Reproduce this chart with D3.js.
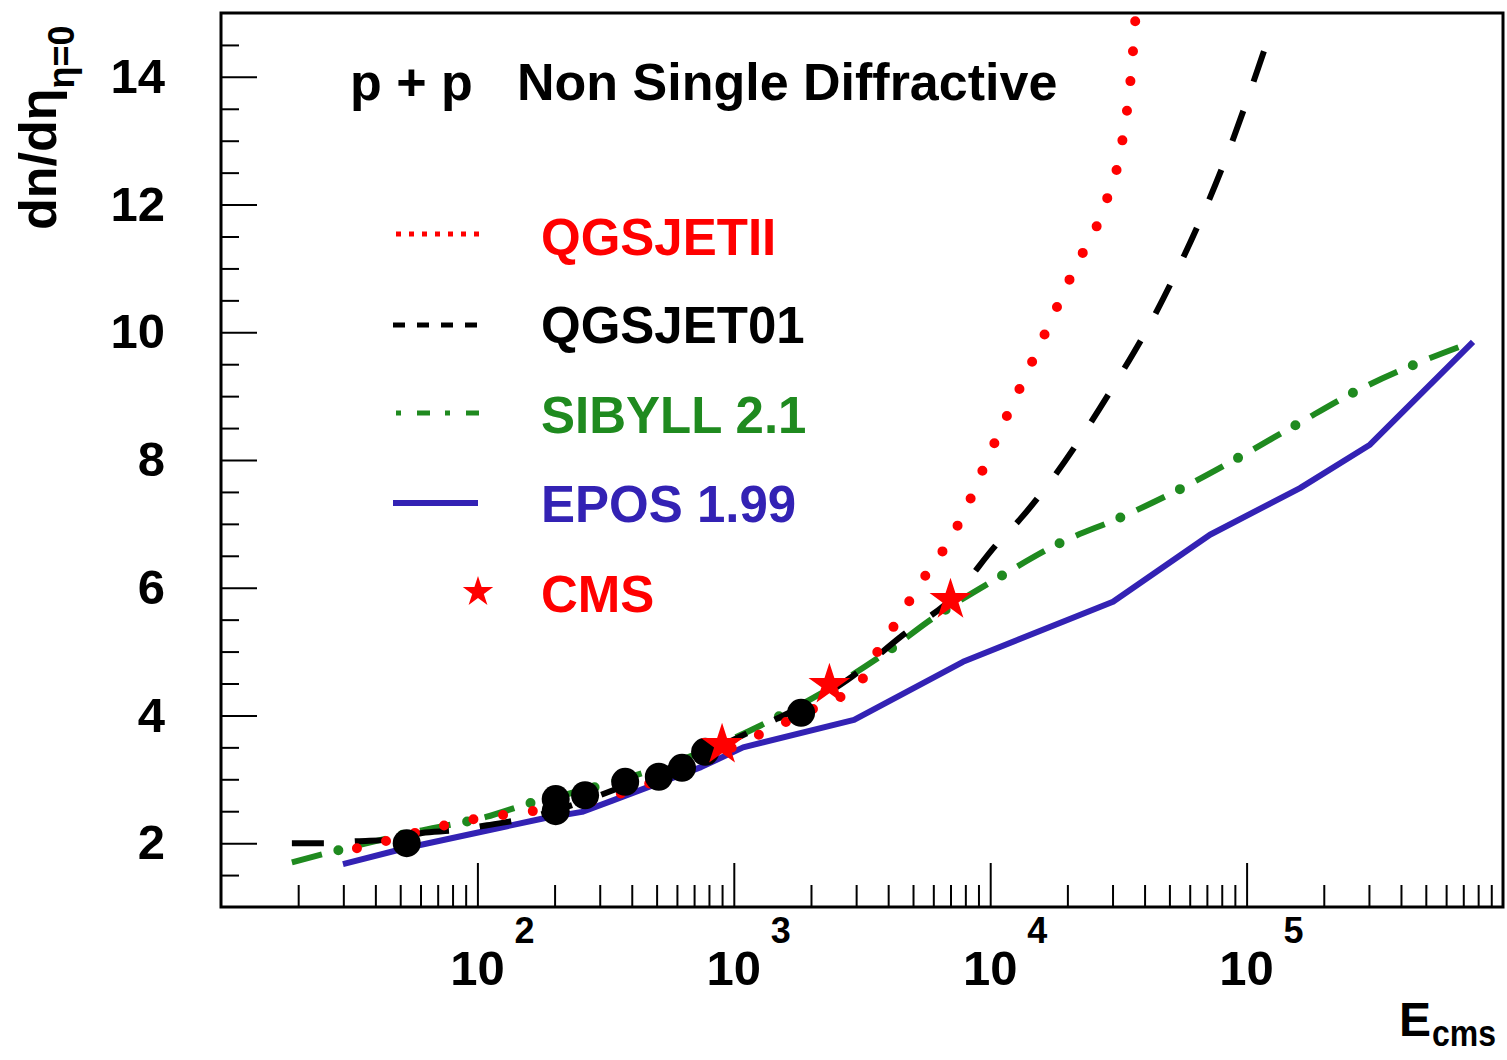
<!DOCTYPE html>
<html>
<head>
<meta charset="utf-8">
<script src="https://cdn.jsdelivr.net/npm/d3@7"></script>
<style>
  body { margin: 0; background: #fff; }
  text { font-family: "Liberation Sans", Arial, Helvetica, sans-serif; font-weight: bold; }
</style>
</head>
<body>
<div id="chart"></div>
<script>
// values: [E_cms (GeV), dn/deta at eta=0]
var qgsjet2 = [[33.9,1.92],[45.6,2.05],[60.8,2.19],[81,2.31],[109,2.41],[144,2.47],[344,2.75],[451,2.91],
  [1337,3.75],[2312,4.21],[3020,4.44],[3522,4.91],[4140,5.35],[4823,5.78],[5717,6.25],[6788,6.68],
  [7836,7.14],[9980,8.11],[14690,9.57],[21420,11.01],[27800,11.96],[32670,12.97],[35410,14.03],[37050,15.05]];

var qgsjet01 = [[18.9,2.0],[25.2,2.0],[33.9,2.03],[46.9,2.06],[60.8,2.16],[81,2.2],[109,2.28],[143,2.36],
  [430,2.99],[738,3.38],[1265,3.82],[2760,4.55],[4573,5.26],[7164,5.85],[10710,6.7],[13060,7.07],
  [31270,9.25],[42770,10.19],[55990,11.13],[80200,12.57],[121000,14.58]];

var sibyll = [[18.9,1.7],[28.8,1.89],[60.8,2.2],[108,2.41],[162,2.63],[290,2.88],[617,3.3],[1472,3.97],
  [4140,5.05],[5820,5.49],[11220,6.2],[18700,6.7],[32660,7.11],[55980,7.56],[94200,8.05],[157300,8.56],
  [264900,9.07],[454000,9.5],[764000,9.85]];

var epos = [[29.9,1.67],[52.2,1.92],[182,2.39],[256,2.49],[338,2.67],[745,3.19],[1087,3.5],[2944,3.93],
  [7834,4.84],[30130,5.78],[71970,6.83],[161500,7.56],[302700,8.24],[764000,9.85]];

var dataPoints = [[53,2.0],[202,2.69],[202,2.5],[263,2.75],[377,2.96],[510,3.04],[628,3.18],[773,3.43],[1830,4.04]];

var cmsPoints = [[900,3.54],[2360,4.48],[7000,5.81]];

var yTickLabels = [2,4,6,8,10,12,14];
var xDecades = [2,3,4,5];

var legendNames = ["QGSJETII","QGSJET01","SIBYLL 2.1","EPOS 1.99","CMS"];
var legendColors = ["#ff0000","#000000","#1f8a1f","#3322b4","#ff0000"];

var svgWidth = 1507, svgHeight = 1060;
var margin = {top: 13, right: 4, bottom: 153, left: 221};
var chartWidth = svgWidth - margin.left - margin.right;
var chartHeight = svgHeight - margin.top - margin.bottom;

var svg = d3.select("#chart").append("svg")
    .attr("width", svgWidth)
    .attr("height", svgHeight)
    .style("background", "#fff");

var chartGroup = svg.append("g")
    .attr("transform", `translate(${margin.left}, ${margin.top})`);

var x = d3.scaleLog().domain([10, 1e6]).range([0, chartWidth]);
var y = d3.scaleLinear().domain([1, 15]).range([chartHeight, 0]);

svg.append("defs").append("clipPath").attr("id", "frameclip")
  .append("rect").attr("width", chartWidth).attr("height", chartHeight);

// ticks: y minor every 0.5, major at even numbers
var yMinor = d3.range(1.5, 15, 0.5).filter(d => d % 2 != 0);
chartGroup.append("g")
    .call(d3.axisLeft(y).tickValues(yMinor).tickSize(-18).tickFormat(""))
    .call(g => g.select(".domain").remove());
var yAxis = chartGroup.append("g")
    .call(d3.axisLeft(y).tickValues(yTickLabels).tickSize(-36).tickPadding(56).tickFormat(d3.format("d")))
    .call(g => g.select(".domain").remove());
yAxis.selectAll("text").attr("font-size", 49).attr("fill", "#000").attr("font-family", null);

var xMinor = [];
[1,2,3,4,5].forEach(function(k){
  for (var m = 2; m <= 9; m++) xMinor.push(m * Math.pow(10, k));
});
chartGroup.append("g")
    .attr("transform", "translate(0," + chartHeight + ")")
    .call(d3.axisBottom(x).tickValues(xMinor).tickSize(-22).tickFormat(""))
    .call(g => g.select(".domain").remove());
chartGroup.append("g")
    .attr("transform", "translate(0," + chartHeight + ")")
    .call(d3.axisBottom(x).tickValues(xDecades.map(k => Math.pow(10, k))).tickSize(-44).tickFormat(""))
    .call(g => g.select(".domain").remove());
chartGroup.selectAll(".tick line").attr("stroke", "#000").attr("stroke-width", 2);

// decade labels 10^k
xDecades.forEach(function(k){
  var px = x(Math.pow(10, k));
  chartGroup.append("text").attr("x", px).attr("y", chartHeight + 78)
    .attr("text-anchor", "middle").attr("font-size", 49).text("10");
  chartGroup.append("text").attr("x", px + 37).attr("y", chartHeight + 36)
    .attr("font-size", 36).text(k);
});

// curves
var line = d3.line().x(d => x(d[0])).y(d => y(d[1]));
var curves = chartGroup.append("g").attr("clip-path", "url(#frameclip)");

curves.append("path").datum(epos)
    .attr("d", line.curve(d3.curveLinear))
    .attr("fill", "none").attr("stroke", legendColors[3]).attr("stroke-width", 6)
    .attr("stroke-linejoin", "round");

var smooth = d3.line().x(d => x(d[0])).y(d => y(d[1])).curve(d3.curveMonotoneX);

curves.append("path").datum(sibyll)
    .attr("d", smooth)
    .attr("fill", "none").attr("stroke", legendColors[2]).attr("stroke-width", 6)
    .attr("stroke-dasharray", "31 35");
curves.append("path").datum(sibyll)
    .attr("d", smooth)
    .attr("fill", "none").attr("stroke", legendColors[2]).attr("stroke-width", 10)
    .attr("stroke-linecap", "round")
    .attr("stroke-dasharray", "0 66").attr("stroke-dashoffset", 18);

curves.append("path").datum(qgsjet01)
    .attr("d", smooth)
    .attr("fill", "none").attr("stroke", "#000").attr("stroke-width", 6)
    .attr("stroke-dasharray", "32 31");

curves.append("path").datum(qgsjet2)
    .attr("d", smooth)
    .attr("fill", "none").attr("stroke", "#ff0000").attr("stroke-width", 10)
    .attr("stroke-linecap", "round")
    .attr("stroke-dasharray", "0 30");

// measured points
chartGroup.selectAll(".pt").data(dataPoints).enter().append("circle")
    .attr("cx", d => x(d[0])).attr("cy", d => y(d[1])).attr("r", 14).attr("fill", "#000");

var starR = 22;
chartGroup.selectAll(".cms").data(cmsPoints).enter().append("path")
    .attr("d", d3.symbol(d3.symbolStar, starR * starR / 0.8908130915292852))
    .attr("transform", d => `translate(${x(d[0])},${y(d[1])})`)
    .attr("fill", "#ff0000");

// frame
chartGroup.append("rect").attr("width", chartWidth).attr("height", chartHeight)
    .attr("fill", "none").attr("stroke", "#000").attr("stroke-width", 3);

// title
svg.append("text").attr("x", 350).attr("y", 100).attr("font-size", 52).text("p + p");
svg.append("text").attr("x", 517).attr("y", 100).attr("font-size", 52).text("Non Single Diffractive");

// legend
var legY = [255, 343, 433, 522, 612];
legendNames.forEach(function(name, i){
  svg.append("text").attr("x", 541).attr("y", legY[i]).attr("font-size", 51)
    .attr("fill", legendColors[i]).text(name);
});
var lg = svg.append("g");
lg.append("line").attr("x1", 396).attr("x2", 479).attr("y1", 234).attr("y2", 234)
  .attr("stroke", "#ff0000").attr("stroke-width", 5).attr("stroke-dasharray", "5 8");
lg.append("line").attr("x1", 393).attr("x2", 478).attr("y1", 325).attr("y2", 325)
  .attr("stroke", "#000").attr("stroke-width", 5).attr("stroke-dasharray", "12 12");
lg.append("line").attr("x1", 396).attr("x2", 479).attr("y1", 413).attr("y2", 413)
  .attr("stroke", legendColors[2]).attr("stroke-width", 5).attr("stroke-dasharray", "5 16 13 15");
lg.append("line").attr("x1", 393).attr("x2", 478).attr("y1", 503).attr("y2", 503)
  .attr("stroke", legendColors[3]).attr("stroke-width", 6);
lg.append("path")
  .attr("d", d3.symbol(d3.symbolStar, 16 * 16 / 0.8908130915292852))
  .attr("transform", "translate(478,592)").attr("fill", "#ff0000");

// axis titles
var yt = svg.append("text").attr("transform", "translate(56,230) rotate(-90)").attr("font-size", 52);
yt.append("tspan").text("dn/d\u03b7");
yt.append("tspan").attr("font-size", 36).attr("dy", 18).text("\u03b7=0");

svg.append("text").attr("x", 1399).attr("y", 1036).attr("font-size", 48).text("E");
svg.append("text").attr("x", 1432).attr("y", 1046).attr("font-size", 36)
    .attr("textLength", 64).attr("lengthAdjust", "spacingAndGlyphs").text("cms");
</script>
</body>
</html>
